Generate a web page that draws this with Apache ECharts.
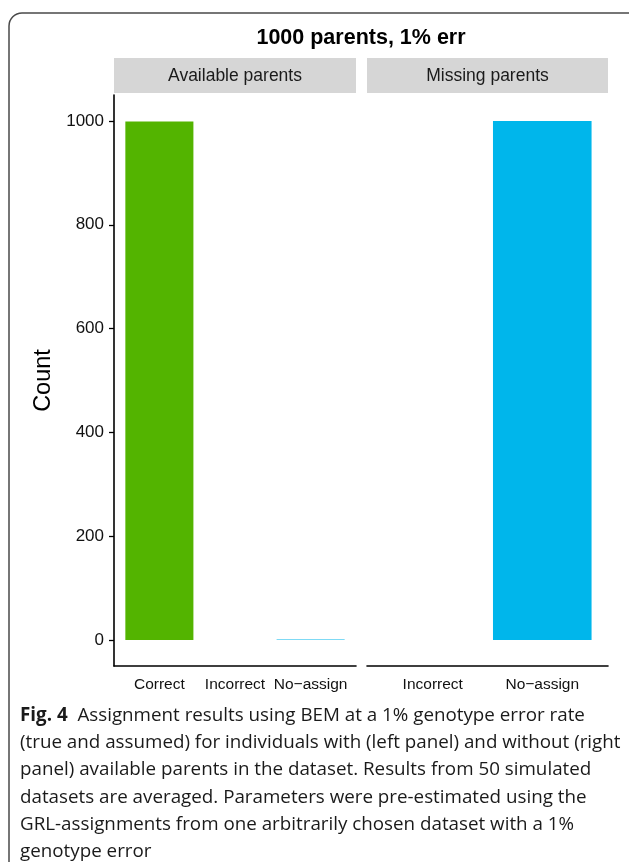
<!DOCTYPE html>
<html>
<head>
<meta charset="utf-8">
<script src="https://cdn.jsdelivr.net/npm/echarts@6/dist/echarts.min.js"></script>
<style>
  html, body { margin: 0; padding: 0; background: #fff; }
  #chart { width: 629px; height: 862px; }
</style>
</head>
<body>
<div id="chart"></div>
<script>
// Assignment outcome counts per panel
const leftCategories = ['Correct', 'Incorrect', 'No-assign'];
const leftCounts = [999, 0, 1];
const rightCategories = ['Incorrect', 'No-assign'];
const rightCounts = [0, 1000];
const yTicks = [0, 200, 400, 600, 800, 1000];
const panelTitles = ['Available parents', 'Missing parents'];
const plotTitle = '1000 parents, 1% err';
const categoryColors = { 'Correct': '#53B400', 'Incorrect': '#00C094', 'No-assign': '#00B6EB' };

const captionLines = [
  '{b|Fig. 4}  Assignment results using BEM at a 1% genotype error rate',
  '(true and assumed) for individuals with (left panel) and without (right',
  'panel) available parents in the dataset. Results from 50 simulated',
  'datasets are averaged. Parameters were pre-estimated using the',
  'GRL-assignments from one arbitrarily chosen dataset with a 1%',
  'genotype error'
];

// panel geometry (px)
const panels = [
  { left: 114, width: 242 },
  { left: 367, width: 241 }
];
const gridTop = 95, gridBottomY = 666;
const EXPAND = 0.6;   // discrete axis padding, in category units
const BAR_FRAC = 0.9;
const FONT = '"Liberation Sans", Arial, sans-serif';
const CAPTION_FONT = '"Open Sans", sans-serif';

function xAxisFor(i, cats) {
  const vals = cats.map((_, k) => k + 1);
  return {
    type: 'value', gridIndex: i,
    min: 1 - EXPAND, max: cats.length + EXPAND,
    axisLine: { show: true, onZero: false, lineStyle: { color: '#000', width: 1.6 } },
    axisTick: { show: false },
    splitLine: { show: false },
    axisLabel: {
      customValues: vals,
      formatter: v => (cats[Math.round(v) - 1] || '').replace('-', '\u2212'),
      color: '#111', fontSize: 15.5, margin: 11,
      fontFamily: FONT
    }
  };
}

function barSeries(i, cats, counts) {
  const p = panels[i];
  return {
    type: 'bar', xAxisIndex: i, yAxisIndex: i,
    barWidth: BAR_FRAC * p.width / (cats.length - 1 + 2 * EXPAND),
    barMinHeight: 0,
    data: cats.map((c, k) => ({ value: [k + 1, counts[k]], itemStyle: { color: categoryColors[c] } })),
    silent: true, animation: false
  };
}

const chart = echarts.init(document.getElementById('chart'), null, { renderer: 'canvas' });

const graphics = [
  {
    type: 'rect', silent: true,
    shape: { x: 9, y: 13, width: 640, height: 920, r: 13 },
    style: { fill: 'none', stroke: '#4a4a4a', lineWidth: 1.5 }
  },
  {
    type: 'text', silent: true,
    style: {
      x: (panels[0].left + panels[1].left + panels[1].width) / 2, y: 38,
      text: plotTitle, align: 'center', verticalAlign: 'middle',
      font: 'bold 21.5px ' + FONT, fill: '#000'
    }
  },
  {
    type: 'text', silent: true,
    style: {
      x: 20, y: 702,
      text: captionLines.join('\n'),
      font: '18.8px ' + CAPTION_FONT, fill: '#1a1a1a',
      lineHeight: 27.2,
      rich: {
        b: { font: 'bold 18.8px ' + CAPTION_FONT, fill: '#1a1a1a', lineHeight: 27.2 }
      }
    }
  }
];

panels.forEach((p, i) => {
  graphics.push({
    type: 'rect', silent: true,
    shape: { x: p.left, y: 58, width: p.width, height: 35 },
    style: { fill: '#D6D6D6' }
  });
  graphics.push({
    type: 'text', silent: true,
    style: {
      x: p.left + p.width / 2, y: 76, text: panelTitles[i],
      align: 'center', verticalAlign: 'middle',
      font: '17.5px ' + FONT, fill: '#1a1a1a'
    }
  });
});

const yAxisBase = (i) => ({
  type: 'value', gridIndex: i,
  min: -50, max: 1050,
  splitLine: { show: false },
  axisLine: { show: i === 0, lineStyle: { color: '#000', width: 1.6 } },
  axisTick: { show: i === 0, customValues: yTicks, length: 5, lineStyle: { color: '#000', width: 1.3 } },
  axisLabel: {
    show: i === 0, customValues: yTicks, color: '#111', fontSize: 17, margin: 10,
    formatter: v => String(v),
    fontFamily: FONT
  },
  name: i === 0 ? 'Count' : '',
  nameLocation: 'middle', nameGap: 58,
  nameTextStyle: { fontSize: 23.5, color: '#000', fontFamily: FONT }
});

chart.setOption({
  animation: false,
  grid: panels.map(p => ({ left: p.left, width: p.width, top: gridTop, height: gridBottomY - gridTop })),
  xAxis: [xAxisFor(0, leftCategories), xAxisFor(1, rightCategories)],
  yAxis: [yAxisBase(0), yAxisBase(1)],
  series: [barSeries(0, leftCategories, leftCounts), barSeries(1, rightCategories, rightCounts)],
  graphic: graphics
});
</script>
</body>
</html>
